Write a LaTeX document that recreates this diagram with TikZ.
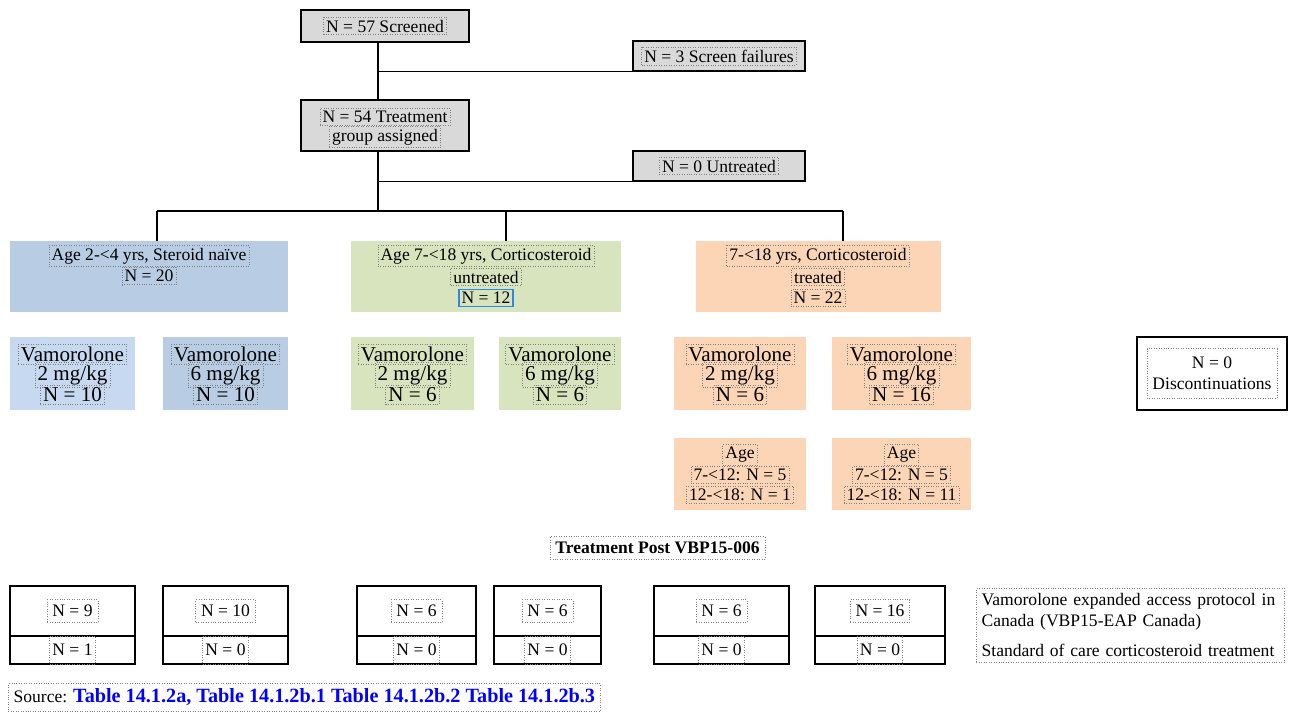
\documentclass[tikz,border=0pt]{standalone}
\usepackage{fontspec}
\setmainfont{Liberation Serif}
\definecolor{hdrgray}{HTML}{D9D9D9}
\definecolor{grpblue}{HTML}{B8CCE4}
\definecolor{armblue}{HTML}{C6D9F1}
\definecolor{grpgreen}{HTML}{D7E4BD}
\definecolor{grporange}{HTML}{FBD5B5}
\definecolor{selblue}{HTML}{2E86E8}
\newcommand{\txtsize}{\fontsize{10}{12}\selectfont}
\newcommand{\armsize}{\fontsize{12}{14}\selectfont}

\begin{document}
\begin{tikzpicture}[x=0.02cm, y=-0.02cm,
    cell/.style={draw=black, line width=0.7pt, fill=hdrgray, inner sep=0pt, minimum width=3.36cm},
    grp/.style={inner sep=0pt, minimum height=1.42cm},
    arm/.style={inner sep=0pt, minimum height=1.46cm},
    post/.style={draw=black, line width=0.8pt, inner sep=0pt},
    tl/.style={draw=gray, densely dotted, inner sep=1.5pt, font=\txtsize},
    link/.style={line width=0.6pt}]
  \useasboundingbox (0,0) rectangle (1293,716);

  % screening
  \node[cell, minimum height=0.64cm] (scr) at (385,26) {};
  \node[cell, minimum width=3.44cm, minimum height=0.6cm] (fail) at (719,56) {};
  \node[cell, minimum height=1.02cm] (trt) at (385,125.5) {};
  \node[cell, minimum width=3.44cm, minimum height=0.6cm] (untr) at (719,166) {};
  \node[tl] (scrT) at (385,26) {N = 57 Screened};
  \node[tl] (failT) at (719,56) {N = 3 Screen failures};
  \node[tl] (trtT1) at (385,117) {N = 54 Treatment};
  \node[tl] (trtT2) at (385,137) {group assigned};
  \node[tl] (untrT) at (719,166) {N = 0 Untreated};

  % groups
  \node[grp, fill=grpblue, minimum width=5.56cm] (gA) at (149,276.5) {};
  \node[grp, fill=grpgreen, minimum width=5.4cm] (gB) at (486,276.5) {};
  \node[grp, fill=grporange, minimum width=4.9cm] (gC) at (818.5,276.5) {};
  \node[tl] (gAT1) at (149,256) {Age 2-<4 yrs, Steroid naïve};
  \node[tl] (gAT2) at (149,276) {N = 20};
  \node[tl] (gBT1) at (486,256) {Age 7-<18 yrs, Corticosteroid};
  \node[tl] (gBT2) at (486,277) {untreated};
  \node[tl, draw=selblue, solid, line width=0.8pt] (gBT3) at (486,298) {N = 12};
  \node[tl] (gCT1) at (818,256) {7-<18 yrs, Corticosteroid};
  \node[tl] (gCT2) at (818,277) {treated};
  \node[tl] (gCT3) at (818,298) {N = 22};

  % connectors
  \coordinate (br) at (378,211);
  \coordinate (dA) at (157,211);
  \coordinate (dB) at (506,211);
  \coordinate (dC) at (843,211);
  \draw[link] (scr.south -| br) -- (trt.north -| br);
  \draw[link] (br |- fail.south) -- (fail.south west);
  \draw[link] (trt.south -| br) -- (br);
  \draw[link] (br |- untr.south) -- (untr.south west);
  \draw[link] (dA) -- (dC);
  \draw[link] (dA) -- (dA |- gA.north);
  \draw[link] (dB) -- (dB |- gB.north);
  \draw[link] (dC) -- (dC |- gC.north);

  % arms
  \node[arm, fill=armblue, minimum width=2.5cm] (a1) at (72.5,373.5) {};
  \node[arm, fill=grpblue, minimum width=2.5cm] (a2) at (225.5,373.5) {};
  \node[arm, fill=grpgreen, minimum width=2.46cm] (a3) at (412.5,373.5) {};
  \node[arm, fill=grpgreen, minimum width=2.44cm] (a4) at (560,373.5) {};
  \node[arm, fill=grporange, minimum width=2.64cm] (a5) at (740,373.5) {};
  \node[arm, fill=grporange, minimum width=2.78cm] (a6) at (901.5,373.5) {};
  \foreach \nm/\x/\dose/\n in {a1/72.5/2/10, a2/225.5/6/10, a3/412.5/2/6,
                               a4/560/6/6, a5/740/2/6, a6/901.5/6/16} {
    \node[tl, font=\armsize] (\nm T1) at (\x,354) {Vamorolone};
    \node[tl, font=\armsize] (\nm T2) at (\x,375) {\dose{} mg/kg};
    \node[tl, font=\armsize] (\nm T3) at (\x,395) {N = \n};
  }

  % age split
  \node[arm, fill=grporange, minimum width=2.64cm, minimum height=1.44cm] (age1) at (740,474) {};
  \node[arm, fill=grporange, minimum width=2.78cm, minimum height=1.44cm] (age2) at (901.5,474) {};
  \foreach \nm/\x/\n in {age1/740/1, age2/901.5/11} {
    \node[tl] (\nm T1) at (\x,455) {Age};
    \node[tl] (\nm T2) at (\x,475) {7-<12: N = 5};
    \node[tl] (\nm T3) at (\x,495) {12-<18: N = \n};
  }

  % discontinuations
  \node[draw=black, line width=1pt, minimum width=3cm, minimum height=1.46cm] (disc) at (1212,373.5) {};
  \node[tl, align=center, minimum width=2.6cm, minimum height=1cm] (discT) at (1212,373.5) {N = 0\\Discontinuations};

  % after VBP15-006
  \node[tl, font=\txtsize\bfseries, inner sep=3pt] (postT) at (657.5,548) {Treatment Post VBP15-006};
  \foreach \nm/\x/\w/\na/\nb in {p1/72.5/2.5/9/1, p2/225.5/2.5/10/0, p3/416.5/2.38/6/0,
                                 p4/547.5/2.14/6/0, p5/721.5/2.7/6/0, p6/880/2.6/16/0} {
    \node[post, minimum width=\w cm, minimum height=1cm] (\nm) at (\x,611) {};
    \node[post, minimum width=\w cm, minimum height=0.56cm] (\nm b) at (\x,650) {};
    \node[tl, inner sep=3pt] (\nm T) at (\x,611) {N = \na};
    \node[tl, minimum height=0.56cm] (\nm bT) at (\x,650) {N = \nb};
  }
  \node[tl, anchor=north west, align=left, text width=5.95cm, inner sep=3pt] (legend) at (976,588)
    {Vamorolone expanded access protocol in\\Canada (VBP15-EAP Canada)\\[5pt]Standard of care corticosteroid treatment};

  % source
  \node[tl, anchor=west, inner sep=3pt] (src) at (8,697.5)
    {Source: \textcolor{blue}{\fontsize{11.5}{13}\selectfont\bfseries Table 14.1.2a, Table 14.1.2b.1 Table 14.1.2b.2 Table 14.1.2b.3}};
\end{tikzpicture}
\end{document}
